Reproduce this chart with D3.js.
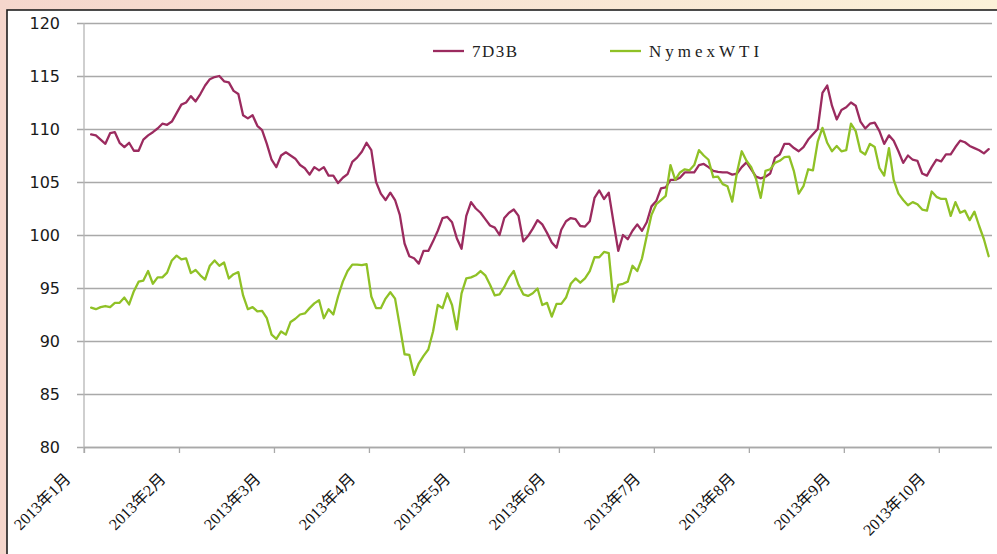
<!DOCTYPE html>
<html><head><meta charset="utf-8">
<script src="https://cdn.jsdelivr.net/npm/d3@7/dist/d3.min.js"></script>
<style>
html,body{margin:0;padding:0;overflow:hidden;background:#fff;}
</style></head><body>
<svg id="chart" width="997" height="554"></svg>
<script>
// ---- data ----
const seriesNames = ["7D3B", "NymexWTI"];
const series7D3B = [
109.5,109.4,109.0,108.6,109.6,109.7,108.7,108.3,108.7,107.95,
107.95,109.0,109.4,109.7,110.05,110.5,110.4,110.7,111.5,112.3,
112.5,113.1,112.6,113.3,114.1,114.7,114.9,115.0,114.5,114.4,
113.6,113.3,111.3,111.0,111.3,110.3,109.9,108.6,107.1,106.4,
107.5,107.8,107.5,107.2,106.6,106.3,105.7,106.4,106.1,106.4,
105.6,105.6,104.9,105.4,105.75,106.9,107.3,107.85,108.7,108.0,
105.0,103.9,103.3,104.0,103.3,101.9,99.2,98.0,97.8,97.3,
98.5,98.5,99.4,100.4,101.6,101.7,101.2,99.7,98.7,101.8,
103.1,102.5,102.1,101.5,100.9,100.7,100.0,101.6,102.1,102.4,
101.8,99.4,99.9,100.6,101.4,101.0,100.2,99.3,98.8,100.5,
101.3,101.6,101.5,100.85,100.8,101.3,103.5,104.2,103.4,104.0,
101.2,98.5,100.0,99.6,100.4,101.0,100.4,101.2,102.7,103.2,
104.4,104.5,105.2,105.2,105.4,105.9,105.9,105.9,106.6,106.7,
106.4,106.05,105.95,105.9,105.9,105.7,105.8,106.4,106.85,106.2,
105.5,105.35,105.5,105.8,107.3,107.6,108.6,108.6,108.2,107.9,
108.3,109.0,109.5,110.0,113.4,114.1,112.2,110.9,111.8,112.05,
112.5,112.2,110.7,110.05,110.5,110.6,109.8,108.6,109.4,108.9,
107.9,106.8,107.5,107.1,107.0,105.8,105.6,106.4,107.1,106.95,
107.6,107.6,108.3,108.9,108.75,108.4,108.2,108.0,107.7,108.1
];
const seriesWTI = [
93.15,93.0,93.2,93.3,93.2,93.6,93.6,94.1,93.45,94.7,
95.6,95.7,96.6,95.4,96.0,96.0,96.45,97.6,98.05,97.7,
97.8,96.4,96.7,96.2,95.8,97.1,97.6,97.1,97.4,95.9,
96.3,96.5,94.3,93.0,93.2,92.8,92.85,92.15,90.6,90.2,
90.9,90.6,91.8,92.1,92.5,92.6,93.1,93.55,93.85,92.15,
93.0,92.5,94.2,95.6,96.6,97.2,97.2,97.15,97.25,94.2,
93.1,93.1,94.0,94.6,94.0,91.4,88.75,88.7,86.8,87.9,
88.6,89.2,90.9,93.4,93.1,94.5,93.4,91.1,94.5,95.9,
96.0,96.2,96.6,96.2,95.3,94.3,94.4,95.1,96.0,96.6,
95.3,94.4,94.25,94.5,94.95,93.4,93.6,92.3,93.5,93.5,
94.1,95.4,95.9,95.5,95.9,96.6,97.9,97.9,98.4,98.3,
93.7,95.3,95.4,95.6,97.1,96.6,97.8,99.9,101.9,102.9,
103.3,103.7,106.6,105.2,105.9,106.2,106.1,106.6,108.0,107.5,
107.1,105.45,105.5,104.8,104.6,103.15,105.9,107.9,107.0,106.4,
105.3,103.5,106.05,106.2,106.8,107.0,107.35,107.4,106.0,103.9,
104.6,106.2,106.1,108.8,110.1,108.7,107.9,108.4,107.9,108.0,
110.5,109.8,107.9,107.6,108.6,108.3,106.3,105.6,108.2,105.2,
103.9,103.3,102.8,103.1,102.9,102.4,102.3,104.1,103.6,103.4,
103.4,101.8,103.1,102.1,102.3,101.4,102.2,100.85,99.6,98.0
];
const yTickValues = [80, 85, 90, 95, 100, 105, 110, 115, 120];
const monthLabels = ["2013年1月","2013年2月","2013年3月","2013年4月","2013年5月",
  "2013年6月","2013年7月","2013年8月","2013年9月","2013年10月"];
const pointsPerTick = 20;

// ---- layout / style ----
const W = 997, H = 554;
const plot = {left: 84, right: 992, top: 23, bottom: 447};
const colors = {"7D3B": "#9b2b5f", "NymexWTI": "#8fc126"};
const gridColor = "#a9a9a9";

const svg = d3.select("#chart");
const defs = svg.append("defs");
const bg = defs.append("linearGradient").attr("id","bg").attr("x1","0").attr("y1","0").attr("x2","1").attr("y2","0");
bg.append("stop").attr("offset","0").attr("stop-color","#f5d6cc");
bg.append("stop").attr("offset","0.45").attr("stop-color","#f8e3d3");
bg.append("stop").attr("offset","1").attr("stop-color","#fbf2d8");
svg.append("rect").attr("width",W).attr("height",H).attr("fill","url(#bg)");
svg.append("rect").attr("x",7).attr("y",10).attr("width",W+20).attr("height",H+20)
  .attr("fill","#fff").attr("stroke","#1e1e1e").attr("stroke-width",1.6);

// scales: slot units; category i sits at slot i + 1.5
const nSlots = 191.2;
const x = d3.scaleLinear().domain([0, nSlots]).range([plot.left, plot.right]);
const y = d3.scaleLinear().domain([80, 120]).range([plot.bottom, plot.top]);
const slot = i => i + 1.5;

// gridlines + y axis
const yAxis = d3.axisLeft(y).tickValues(yTickValues).tickSize(-(plot.right - plot.left + 7)).tickPadding(0).tickFormat(d3.format("d"));
const gy = svg.append("g").attr("transform",`translate(${plot.left - 7},0)`).call(yAxis);
gy.select(".domain").remove();
gy.selectAll(".tick line").attr("stroke",gridColor).attr("stroke-width",1.3);
gy.selectAll(".tick text").attr("x",-17).attr("dy","0.36em")
  .attr("font-family","'DejaVu Sans', Verdana, sans-serif").attr("font-size",16).attr("fill","#1a1a1a");

// vertical axis line
svg.append("line").attr("x1",plot.left).attr("x2",plot.left).attr("y1",plot.top).attr("y2",plot.bottom+6)
  .attr("stroke","#b5b5b5").attr("stroke-width",1.3);

// x axis
const tickSlots = monthLabels.map((_, k) => k * pointsPerTick);
const xAxis = d3.axisBottom(x).tickValues(tickSlots).tickSize(6).tickFormat(() => "");
const gx = svg.append("g").attr("transform",`translate(0,${plot.bottom})`).call(xAxis);
gx.select(".domain").attr("stroke",gridColor).attr("stroke-width",1.3).attr("d",`M${plot.left},0.5H${plot.right}`);
gx.selectAll(".tick line").attr("stroke",gridColor).attr("stroke-width",1.3);
gx.selectAll(".tick").append("text")
  .text((d, k) => monthLabels[k])
  .attr("text-anchor","end")
  .attr("transform","translate(-13,33) rotate(-45)")
  .attr("font-family","'Liberation Serif', 'Times New Roman', 'Noto Sans CJK SC', serif")
  .attr("font-size",16).attr("fill","#111");

// lines
const allSeries = [
  {name: "7D3B", values: series7D3B},
  {name: "NymexWTI", values: seriesWTI}
];
const line = d3.line().x((d, i) => x(slot(i))).y(d => y(d));
svg.append("g").selectAll("path").data(allSeries).join("path")
  .attr("d", d => line(d.values))
  .attr("fill","none").attr("stroke", d => colors[d.name])
  .attr("stroke-width",2.3).attr("stroke-linejoin","round").attr("stroke-linecap","round");

// legend
const legendItems = [
  {name: "7D3B", lx: 433, spacing: 1.5},
  {name: "NymexWTI", lx: 610, spacing: 4}
];
const lg = svg.append("g");
legendItems.forEach(it => {
  lg.append("line").attr("x1",it.lx).attr("x2",it.lx+31).attr("y1",51).attr("y2",51)
    .attr("stroke",colors[it.name]).attr("stroke-width",2.3);
  lg.append("text").attr("x",it.lx+39).attr("y",57).text(it.name)
    .attr("font-family","'Liberation Serif', serif").attr("font-size",17)
    .attr("letter-spacing",it.spacing).attr("fill","#222");
});
</script>
</body></html>
